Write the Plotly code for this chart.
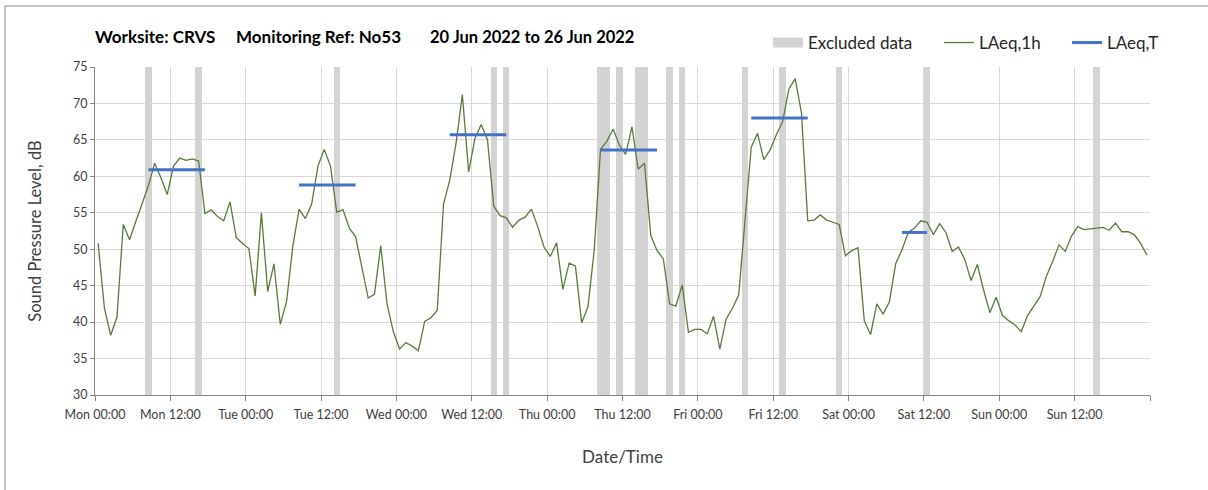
import pandas as pd
import plotly.graph_objects as go

# ---- data ----
start = pd.Timestamp("2022-06-20 00:00")
laeq_1h = [
    50.8, 41.9, 38.2, 40.7, 53.4, 51.3, 53.8, 56.2, 58.7, 61.8,
    59.8, 57.5, 61.4, 62.5, 62.2, 62.4, 62.1, 54.9, 55.4, 54.5,
    53.9, 56.5, 51.6, 50.8, 50.1, 43.6, 55.0, 44.2, 48.0, 39.7,
    42.8, 50.4, 55.5, 54.2, 56.2, 61.4, 63.7, 61.4, 55.1, 55.4,
    52.9, 51.7, 47.6, 43.3, 43.8, 50.5, 42.5, 38.7, 36.3, 37.2,
    36.7, 36.1, 40.1, 40.6, 41.6, 56.2, 59.5, 64.6, 71.2, 60.6,
    65.2, 67.1, 65.0, 55.9, 54.6, 54.3, 53.0, 54.0, 54.4, 55.5,
    53.1, 50.3, 49.0, 50.9, 44.5, 48.1, 47.7, 39.9, 42.1, 49.9,
    63.7, 64.8, 66.5, 64.3, 63.0, 66.8, 61.0, 61.8, 51.9, 49.8,
    48.7, 42.5, 42.2, 45.1, 38.6, 39.0, 39.0, 38.4, 40.8, 36.3,
    40.4, 41.9, 43.7, 53.8, 64.0, 65.9, 62.3, 63.6, 65.7, 67.5,
    72.0, 73.4, 68.7, 53.9, 54.0, 54.7, 54.0, 53.7, 53.4, 49.1,
    49.8, 50.2, 40.2, 38.3, 42.5, 41.1, 42.8, 48.0, 49.9, 52.3,
    52.9, 53.9, 53.7, 52.0, 53.5, 52.3, 49.7, 50.3, 48.6, 45.7,
    47.9, 44.4, 41.3, 43.4, 40.9, 40.2, 39.6, 38.7, 40.9, 42.2,
    43.5, 46.3, 48.3, 50.6, 49.7, 51.8, 53.1, 52.7, 52.8, 52.8,
    53.0, 52.6, 53.6, 52.4, 52.4, 52.0, 50.8, 49.2,
]
# excluded hours (hour index from Mon 00:00)
excluded_hours = [8, 16, 38, 63, 65, 80, 81, 83, 86, 87, 91, 93, 103, 109, 118, 132, 159]
# LAeq,T periods: (first hour, last hour, level)
laeq_t_periods = [
    (8, 17, 60.9),
    (32, 41, 58.8),
    (56, 65, 65.7),
    (80, 89, 63.6),
    (104, 113, 68.0),
    (128, 132, 52.3),
]
tick_labels = ["Mon 00:00", "Mon 12:00", "Tue 00:00", "Tue 12:00", "Wed 00:00",
               "Wed 12:00", "Thu 00:00", "Thu 12:00", "Fri 00:00", "Fri 12:00",
               "Sat 00:00", "Sat 12:00", "Sun 00:00", "Sun 12:00", ""]

# ---- derived ----
x_1h = [start + pd.Timedelta(hours=h + 0.5) for h in range(len(laeq_1h))]
x_ex = [start + pd.Timedelta(hours=h + 0.5) for h in excluded_hours]

t_x, t_y = [], []
for a, b, lv in laeq_t_periods:
    for h in range(a, b + 1):
        t_x.append(start + pd.Timedelta(hours=h + 0.5))
        t_y.append(lv)
    t_x.append(None)
    t_y.append(None)

tickvals = [start + pd.Timedelta(hours=12 * i) for i in range(15)]

GREY = "#d3d3d3"
GREEN = "#5a7a3c"
BLUE = "#4472C4"

fig = go.Figure()
fig.add_trace(go.Bar(
    x=x_ex, y=[45] * len(x_ex), base=30, width=3600000,
    marker=dict(color=GREY, line=dict(width=0)),
    name="Excluded data", hoverinfo="skip", showlegend=False,
))
# legend-only entry for the excluded band (wide grey swatch)
fig.add_trace(go.Scatter(
    x=[None], y=[None], mode="lines", name="Excluded data",
    line=dict(color=GREY, width=11), legend="legend",
))
fig.add_trace(go.Scatter(
    x=x_1h, y=laeq_1h, mode="lines", name="LAeq,1h",
    line=dict(color=GREEN, width=1.3), legend="legend2",
))
fig.add_trace(go.Scatter(
    x=t_x, y=t_y, mode="lines", name="LAeq,T",
    line=dict(color=BLUE, width=3), connectgaps=False, legend="legend3",
))

W, H = 1208, 490
L, R, T, B = 95, 1150, 67, 395


def px_x(p):
    return (p - L) / (R - L)


def px_y(p):
    return (B - p) / (B - T)


font_fam = "Lato, 'Open Sans', sans-serif"
leg_common = dict(
    orientation="h", xanchor="left", y=px_y(43), yanchor="middle",
    font=dict(size=17, color="#262626"), bgcolor="rgba(0,0,0,0)",
    itemwidth=30,
)

fig.update_layout(
    width=W, height=H,
    margin=dict(l=L, r=W - R, t=T, b=H - B),
    plot_bgcolor="white", paper_bgcolor="white",
    bargap=0,
    font=dict(family=font_fam, color="#404040"),
    showlegend=True,
    legend=dict(x=px_x(768), **leg_common),
    legend2=dict(x=px_x(939), **leg_common),
    legend3=dict(x=px_x(1067), **leg_common),
    shapes=[dict(
        type="rect", xref="paper", yref="paper",
        x0=px_x(5), x1=px_x(1230), y0=px_y(510), y1=px_y(6),
        line=dict(color="#8c8c8c", width=1), fillcolor="rgba(0,0,0,0)", layer="below",
    )],
    annotations=[
        dict(text="<b>Worksite: CRVS</b>", x=px_x(93), y=px_y(37), xref="paper", yref="paper",
             xanchor="left", yanchor="middle", showarrow=False,
             font=dict(size=17, color="#000000", family=font_fam)),
        dict(text="<b>Monitoring Ref: No53</b>", x=px_x(234), y=px_y(37), xref="paper", yref="paper",
             xanchor="left", yanchor="middle", showarrow=False,
             font=dict(size=17, color="#000000", family=font_fam)),
        dict(text="<b>20 Jun 2022 to 26 Jun 2022</b>", x=px_x(428), y=px_y(37), xref="paper", yref="paper",
             xanchor="left", yanchor="middle", showarrow=False,
             font=dict(size=16.5, color="#000000", family=font_fam)),
    ],
)

fig.update_xaxes(
    type="date",
    range=[start, start + pd.Timedelta(hours=168)],
    tickvals=tickvals, ticktext=tick_labels,
    showgrid=True, gridcolor="#d9d9d9", gridwidth=1,
    showline=True, linecolor="#868686", linewidth=1,
    ticks="outside", ticklen=5, tickcolor="#868686",
    ticklabelstandoff=3,
    tickfont=dict(size=12.5, color="#404040"),
    title=dict(text="Date/Time", font=dict(size=17, color="#404040"), standoff=30),
    zeroline=False,
)
fig.update_yaxes(
    range=[30, 75], dtick=5, tick0=30,
    showgrid=True, gridcolor="#d9d9d9", gridwidth=1,
    showline=True, linecolor="#868686", linewidth=1,
    ticks="outside", ticklen=4, tickcolor="#868686",
    tickfont=dict(size=12.5, color="#404040"),
    title=dict(text="Sound Pressure Level, dB", font=dict(size=16.5, color="#404040"), standoff=27),
    zeroline=False,
)

fig.write_html("out.html", config={"displayModeBar": False},
               post_script="document.body.style.margin='0';")
